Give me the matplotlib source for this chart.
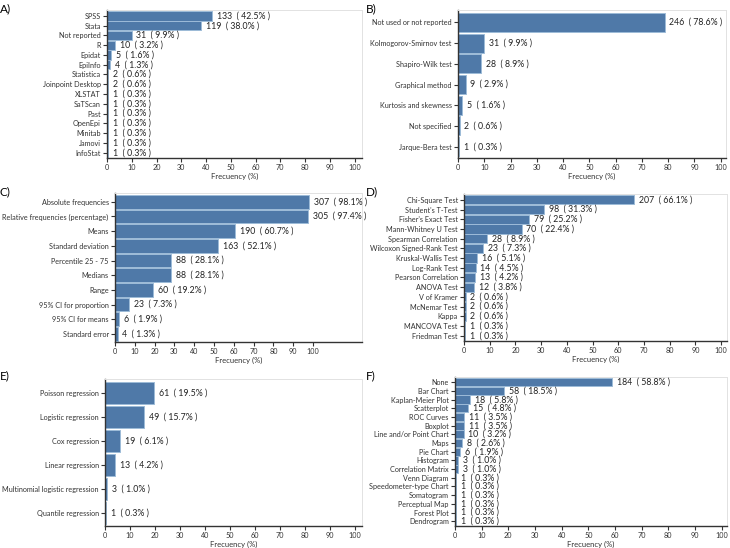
import matplotlib
matplotlib.use("Agg")
import matplotlib.pyplot as plt

plt.rcParams['font.family'] = ['Lato', 'DejaVu Sans']

# A) software
a_labels = ["SPSS", "Stata", "Not reported", "R", "Epidat", "EpiInfo", "Statistica",
            "Joinpoint Desktop", "XLSTAT", "SaTScan", "Past", "OpenEpi", "Minitab",
            "Jamovi", "InfoStat"]
a_counts = [133, 119, 31, 10, 5, 4, 2, 2, 1, 1, 1, 1, 1, 1, 1]
a_pcts = [42.5, 38.0, 9.9, 3.2, 1.6, 1.3, 0.6, 0.6, 0.3, 0.3, 0.3, 0.3, 0.3, 0.3, 0.3]

# B) normality tests
b_labels = ["Not used or not reported", "Kolmogorov-Smirnov test", "Shapiro-Wilk test",
            "Graphical method", "Kurtosis and skewness", "Not specified", "Jarque-Bera test"]
b_counts = [246, 31, 28, 9, 5, 2, 1]
b_pcts = [78.6, 9.9, 8.9, 2.9, 1.6, 0.6, 0.3]

# C) descriptive statistics
c_labels = ["Absolute frequencies", "Relative frequencies (percentage)", "Means",
            "Standard deviation", "Percentile 25 - 75", "Medians", "Range",
            "95% CI for proportion", "95% CI for means", "Standard error"]
c_counts = [307, 305, 190, 163, 88, 88, 60, 23, 6, 4]
c_pcts = [98.1, 97.4, 60.7, 52.1, 28.1, 28.1, 19.2, 7.3, 1.9, 1.3]

# D) hypothesis tests
d_labels = ["Chi-Square Test", "Student's T-Test", "Fisher's Exact Test",
            "Mann-Whitney U Test", "Spearman Correlation", "Wilcoxon Signed-Rank Test",
            "Kruskal-Wallis Test", "Log-Rank Test", "Pearson Correlation", "ANOVA Test",
            "V of Kramer", "McNemar Test", "Kappa", "MANCOVA Test", "Friedman Test"]
d_counts = [207, 98, 79, 70, 28, 23, 16, 14, 13, 12, 2, 2, 2, 1, 1]
d_pcts = [66.1, 31.3, 25.2, 22.4, 8.9, 7.3, 5.1, 4.5, 4.2, 3.8, 0.6, 0.6, 0.6, 0.3, 0.3]

# E) regression
e_labels = ["Poisson regression", "Logistic regression", "Cox regression",
            "Linear regression", "Multinomial logistic regression", "Quantile regression"]
e_counts = [61, 49, 19, 13, 3, 1]
e_pcts = [19.5, 15.7, 6.1, 4.2, 1.0, 0.3]

# F) charts
f_labels = ["None", "Bar Chart", "Kaplan-Meier Plot", "Scatterplot", "ROC Curves",
            "Boxplot", "Line and/or Point Chart", "Maps", "Pie Chart", "Histogram",
            "Correlation Matrix", "Venn Diagram", "Speedometer-type Chart", "Somatogram",
            "Perceptual Map", "Forest Plot", "Dendrogram"]
f_counts = [184, 58, 18, 15, 11, 11, 10, 8, 6, 3, 3, 1, 1, 1, 1, 1, 1]
f_pcts = [58.8, 18.5, 5.8, 4.8, 3.5, 3.5, 3.2, 2.6, 1.9, 1.0, 1.0, 0.3, 0.3, 0.3, 0.3, 0.3, 0.3]

W, H = 730, 548
fig = plt.figure(figsize=(7.3, 5.48), dpi=100)

def px_axes(l, r, t, b):
    return fig.add_axes([l / W, (H - b) / H, (r - l) / W, (b - t) / H])

def panel(ax, labels, counts, pcts, xmax, letter, lx, ly, height=0.92):
    y = range(len(labels))
    ax.barh(y, pcts, height=height, color="#4f79a8", edgecolor="#9dbbd8", linewidth=0.7)
    for yi, c, p in zip(y, counts, pcts):
        ax.annotate(f"{c}  ( {p:.1f}% )", (p, yi), xytext=(3.5, 0),
                    textcoords="offset points", va="center", ha="left",
                    fontsize=6.3, color="#222222")
    ax.set_yticks(list(y))
    ax.set_yticklabels(labels, fontsize=5.2, color="#222222")
    ax.set_xticks(range(0, 101, 10))
    ax.tick_params(axis="x", labelsize=5.2, length=3, width=0.8, colors="#333333",
                   labelcolor="#333333", pad=1.5)
    ax.tick_params(axis="y", length=3, width=0.8, colors="#333333", pad=1.5)
    ax.set_xlim(0, xmax)
    ax.set_ylim(len(labels) - 0.45, -0.6)
    ax.set_xlabel("Frecuency (%)", fontsize=5.5, color="#333333", labelpad=1)
    for s in ["left", "bottom"]:
        ax.spines[s].set_color("#333333")
        ax.spines[s].set_linewidth(1.0)
    for s in ["top", "right"]:
        ax.spines[s].set_color("#e2e2e2")
        ax.spines[s].set_linewidth(0.7)
    fig.text(lx / W, 1 - ly / H, letter, fontsize=8.5, va="top", ha="left")

axA = px_axes(107, 362, 10, 158)
panel(axA, a_labels, a_counts, a_pcts, 103, "A)", 0, 3, height=0.95)
axB = px_axes(458, 726, 10, 158)
panel(axB, b_labels, b_counts, b_pcts, 102, "B)", 366, 3, height=0.92)
axC = px_axes(115, 362, 193, 342)
panel(axC, c_labels, c_counts, c_pcts, 124.7, "C)", 0, 186, height=0.92)
axD = px_axes(464, 727, 194, 341)
panel(axD, d_labels, d_counts, d_pcts, 102.3, "D)", 366, 186, height=0.95)
axE = px_axes(105, 362, 379, 526)
panel(axE, e_labels, e_counts, e_pcts, 103, "E)", 0, 370, height=0.92)
axF = px_axes(455, 727, 377, 526)
panel(axF, f_labels, f_counts, f_pcts, 102, "F)", 366, 370, height=0.95)

fig.savefig("out.png", dpi=100)
